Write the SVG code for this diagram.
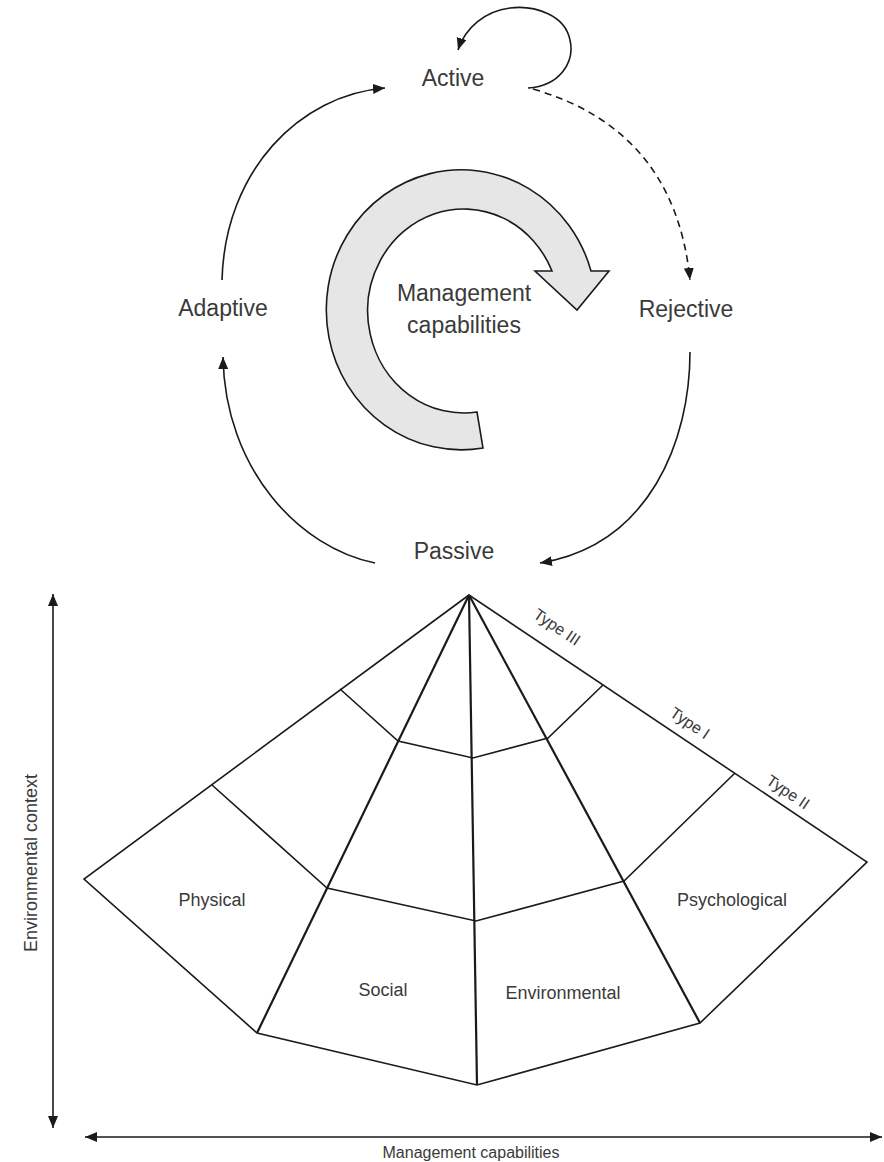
<svg xmlns="http://www.w3.org/2000/svg" width="884" height="1162" viewBox="0 0 884 1162">
<style>
  .lbl{font-family:"Liberation Sans",Arial,sans-serif;font-size:23px;fill:#3a3a3a;text-anchor:middle;dominant-baseline:central}
  .sm{font-family:"Liberation Sans",Arial,sans-serif;font-size:18px;fill:#3a3a3a;text-anchor:middle;dominant-baseline:central}
  .ty{font-family:"Liberation Sans",Arial,sans-serif;font-size:16px;fill:#3a3a3a;text-anchor:middle;dominant-baseline:central}
  .conn{fill:none;stroke:#1a1a1a;stroke-width:1.6}
  .dash{stroke-dasharray:7 5}
  .fan{fill:none;stroke:#1a1a1a;stroke-width:1.6;stroke-linejoin:miter}
  .ray{fill:none;stroke:#1a1a1a;stroke-width:2.2}
</style>
<defs>
  <marker id="ah" markerUnits="userSpaceOnUse" markerWidth="14" markerHeight="12" refX="12" refY="5" orient="auto">
    <path d="M0,0 L12,5 L0,10 Z" fill="#1a1a1a"/>
  </marker>
  <marker id="ahs" markerUnits="userSpaceOnUse" markerWidth="14" markerHeight="12" refX="0" refY="5" orient="auto">
    <path d="M12,0 L0,5 L12,10 Z" fill="#1a1a1a"/>
  </marker>
</defs>
<rect width="884" height="1162" fill="#ffffff"/>

<g id="connectors">
  <path class="conn" d="M528,88 C560,86 575,62 570,40 C565,15 535,5 510,8 C485,11 465,28 458,50" marker-end="url(#ah)"/>
  <path class="conn dash" d="M533,89 Q675,130 690,280" marker-end="url(#ah)"/>
  <path class="conn" d="M690,352 C690,440 650,545 540,563" marker-end="url(#ah)"/>
  <path class="conn" d="M375,563 C300,548 225,470 223,357" marker-end="url(#ah)"/>
  <path class="conn" d="M222,280 C225,170 300,95 385,88" marker-end="url(#ah)"/>
</g>

<g id="cycle-arrow">
  <path d="M483,448 A135,140 0 1 1 591,271 L609,271 L577,310 L535,271 L552,271 A96,102 0 1 0 477,412 Z" fill="#e6e6e6" stroke="#1a1a1a" stroke-width="1.6" stroke-linejoin="miter"/>
  <text class="lbl" x="464" y="293">Management</text>
  <text class="lbl" x="464" y="325">capabilities</text>
</g>

<g id="node-active"><text class="lbl" x="453" y="78">Active</text></g>
<g id="node-adaptive"><text class="lbl" x="223" y="308">Adaptive</text></g>
<g id="node-rejective"><text class="lbl" x="686" y="309">Rejective</text></g>
<g id="node-passive"><text class="lbl" x="454" y="551">Passive</text></g>

<g id="fan">
  <polygon class="fan" points="469,595 84,879 257,1033 477,1085 700,1023 867,862"/>
  <polyline class="fan" points="340,689 398,741 473,758 548,738 603,685"/>
  <polyline class="fan" points="212,785 327,888 476,921 624,881 735,773"/>
  <line class="ray" x1="469" y1="595" x2="257" y2="1033"/>
  <line class="ray" x1="469" y1="595" x2="477" y2="1085"/>
  <line class="ray" x1="469" y1="595" x2="700" y2="1023"/>
</g>
<g id="label-physical"><text class="sm" x="212" y="900">Physical</text></g>
<g id="label-social"><text class="sm" x="383" y="990">Social</text></g>
<g id="label-environmental"><text class="sm" x="563" y="993">Environmental</text></g>
<g id="label-psychological"><text class="sm" x="732" y="900">Psychological</text></g>
<g id="label-type3"><text class="ty" transform="translate(557,627) rotate(34)">Type III</text></g>
<g id="label-type1"><text class="ty" transform="translate(690,723) rotate(34)">Type I</text></g>
<g id="label-type2"><text class="ty" transform="translate(788,792) rotate(34)">Type II</text></g>

<g id="axes">
  <line class="conn" x1="53" y1="594" x2="53" y2="1128" marker-start="url(#ahs)" marker-end="url(#ah)"/>
  <line class="conn" x1="85" y1="1137" x2="882" y2="1137" marker-start="url(#ahs)" marker-end="url(#ah)"/>
  <text class="sm" transform="translate(31,863) rotate(-90)">Environmental context</text>
  <text class="ty" x="471" y="1152">Management capabilities</text>
</g>
</svg>
